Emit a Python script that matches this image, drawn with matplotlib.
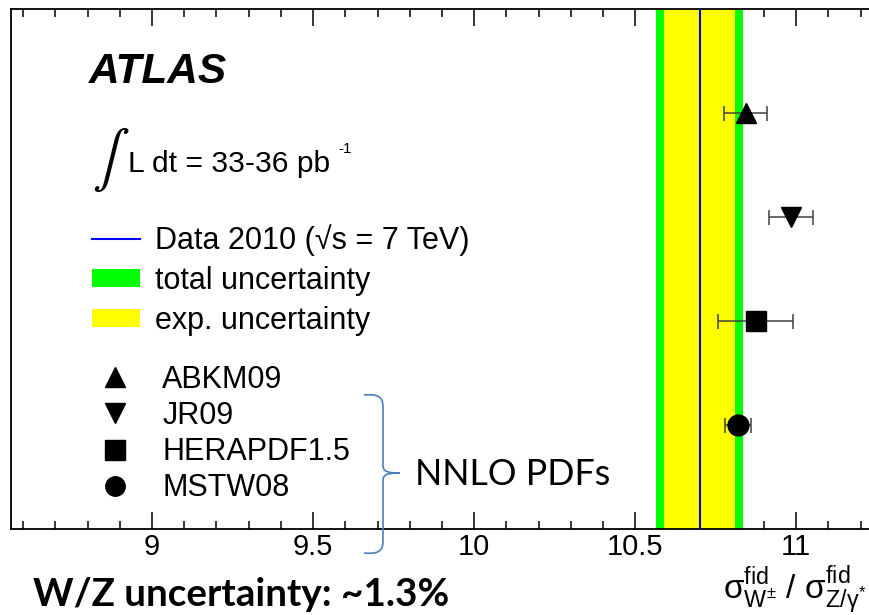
import matplotlib
matplotlib.use("Agg")
import matplotlib.pyplot as plt
from matplotlib.lines import Line2D
from matplotlib.patches import Patch, PathPatch
from matplotlib.path import Path
from matplotlib.ticker import MultipleLocator

# Measured W/Z fiducial cross-section ratio and its uncertainties
data_value = 10.70
exp_unc = 0.11
total_unc = 0.135

# NNLO PDF predictions (top to bottom)
pdf_names = ["ABKM09", "JR09", "HERAPDF1.5", "MSTW08"]
pdf_values = [10.843, 10.984, 10.874, 10.818]
pdf_errors = [0.067, 0.068, 0.117, 0.040]
pdf_rows = [4, 3, 2, 1]
pdf_markers = ["^", "v", "s", "o"]

W, H = 869, 615
plt.rcParams["font.family"] = ["Liberation Sans", "DejaVu Sans"]
plt.rcParams["mathtext.fontset"] = "custom"
plt.rcParams["mathtext.rm"] = "Liberation Sans"
plt.rcParams["mathtext.it"] = "Liberation Sans:italic"
plt.rcParams["mathtext.bf"] = "Liberation Sans:bold"

fig = plt.figure(figsize=(W / 100, H / 100), dpi=100)


def fx(x):
    return x / W


def fy(y):
    return 1 - y / H


ax = fig.add_axes([fx(11), fy(529), 898 / W, 520 / H])
ax.set_xlim(8.562, 11.35)
ax.set_ylim(0, 5)

# uncertainty bands and central value
ax.axvspan(data_value - total_unc, data_value + total_unc, color="#00ff00", lw=0, zorder=1)
ax.axvspan(data_value - exp_unc, data_value + exp_unc, color="#ffff00", lw=0, zorder=2)
ax.axvline(data_value, color="#0000ff", lw=1.5, zorder=3)

for v, e, r, m in zip(pdf_values, pdf_errors, pdf_rows, pdf_markers):
    ax.errorbar(v, r, xerr=e, fmt=m, color="black", ms=15, mec="black",
                ecolor="#404040", elinewidth=1.1, capsize=5.4, capthick=1.1,
                zorder=5)

# axes styling
for s in ax.spines.values():
    s.set_linewidth(1.3)
ax.xaxis.set_major_locator(MultipleLocator(0.5))
ax.xaxis.set_minor_locator(MultipleLocator(0.1))
ax.tick_params(axis="x", which="both", direction="in", top=True, bottom=True,
               labelsize=21, pad=3)
ax.tick_params(axis="x", which="major", length=12.2, width=1.1)
ax.tick_params(axis="x", which="minor", length=5.8, width=1.1)
ax.set_yticks([])
ax.xaxis.set_major_formatter(plt.FuncFormatter(lambda v, p: f"{v:g}"))

# ATLAS label and luminosity
fig.text(fx(89), fy(83), "ATLAS", fontsize=30.5, fontweight="bold",
         fontstyle="italic", va="baseline", ha="left")
fig.text(fx(92), fy(194), r"$\int$", fontsize=40, math_fontfamily="stix",
         va="bottom", ha="left")
fig.text(fx(128), fy(172), "L dt = 33-36 pb", fontsize=21.6, va="baseline", ha="left")
fig.text(fx(338), fy(153), "-1", fontsize=11, va="baseline", ha="left")

# legends
lfs = 22
h1 = [Line2D([], [], color="#0000ff", lw=1.5),
      Patch(facecolor="#00ff00", lw=0),
      Patch(facecolor="#ffff00", lw=0)]
l1 = ["Data 2010 (\u221as = 7 TeV)", "total uncertainty", "exp. uncertainty"]
leg1 = fig.legend(h1, l1, loc="upper left", bbox_to_anchor=(fx(92), fy(224)),
                  bbox_transform=fig.transFigure, frameon=False, fontsize=lfs,
                  handlelength=1.57, handleheight=0.52, handletextpad=0.49,
                  labelspacing=0.33, borderpad=0, borderaxespad=0)

h2 = [Line2D([], [], ls="none", marker=m, color="black", ms=14) for m in pdf_markers]
leg2 = fig.legend(h2, pdf_names, loc="upper left", bbox_to_anchor=(fx(100), fy(365)),
                  bbox_transform=fig.transFigure, frameon=False, fontsize=lfs,
                  handlelength=1.0, handletextpad=1.04,
                  labelspacing=0.2, borderpad=0, borderaxespad=0)

# brace grouping the PDF sets
bx, tip, top, mid, bot, end = 383, 400, 395, 473, 553, 364
verts = [(end, top), (bx, top - 2), (bx, top + 6), (bx, top + 14),
         (bx, mid - 8),
         (bx, mid - 2), (bx + 3, mid), (tip, mid),
         (bx + 3, mid), (bx, mid + 2), (bx, mid + 8),
         (bx, bot - 14),
         (bx, bot - 6), (bx, bot + 2), (end, bot)]
codes = [Path.MOVETO, Path.CURVE4, Path.CURVE4, Path.CURVE4,
         Path.LINETO,
         Path.CURVE4, Path.CURVE4, Path.CURVE4,
         Path.CURVE4, Path.CURVE4, Path.CURVE4,
         Path.LINETO,
         Path.CURVE4, Path.CURVE4, Path.CURVE4]
brace = Path([(fx(x), fy(y)) for x, y in verts], codes)
fig.add_artist(PathPatch(brace, transform=fig.transFigure, fill=False,
                         edgecolor="#4a7ebb", lw=1.2))
fig.text(fx(415), fy(485), "NNLO PDFs", fontsize=25.8, family="Lato",
         va="baseline", ha="left")

# axis title
fig.text(fx(866), fy(599),
         r"$\mathrm{\sigma^{fid}_{W^{\pm}}}$ / $\mathrm{\sigma^{fid}_{Z/\gamma^{*}}}$",
         fontsize=24, va="baseline", ha="right")

fig.text(fx(33), fy(606), "W/Z uncertainty: ~1.3%", fontsize=27.8, family="Lato",
         fontweight="bold", va="baseline", ha="left")

fig.savefig("out.png", dpi=100)
